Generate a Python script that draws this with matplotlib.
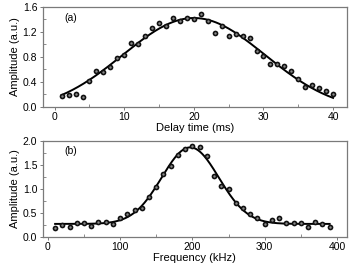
import numpy as np
import matplotlib
matplotlib.use("Agg")
import matplotlib.pyplot as plt
from matplotlib.ticker import MultipleLocator

plt.rcParams['font.family'] = ['Liberation Sans', 'DejaVu Sans']
plt.rcParams['font.size'] = 7.5

# ---------------------------------------------------------------------
# DATA
# ---------------------------------------------------------------------
delay_ms = list(range(1, 41))
amp_a = [0.17, 0.19, 0.21, 0.16, 0.42, 0.58, 0.56, 0.64, 0.79, 0.83,
         1.03, 1.01, 1.14, 1.27, 1.35, 1.30, 1.42, 1.38, 1.43, 1.40,
         1.48, 1.38, 1.19, 1.30, 1.14, 1.17, 1.14, 1.10, 0.90, 0.82,
         0.69, 0.68, 0.66, 0.58, 0.45, 0.32, 0.35, 0.30, 0.26, 0.21]

freq_khz = list(range(10, 400, 10))
amp_b = [0.19, 0.24, 0.21, 0.28, 0.28, 0.23, 0.32, 0.31, 0.26, 0.39,
         0.47, 0.57, 0.61, 0.83, 1.04, 1.31, 1.48, 1.70, 1.83, 1.89,
         1.875, 1.69, 1.27, 1.06, 0.99, 0.71, 0.60, 0.47, 0.40, 0.26,
         0.35, 0.40, 0.28, 0.28, 0.30, 0.21, 0.31, 0.26, 0.21]


# ---------------------------------------------------------------------
# GAUSSIAN FIT (offset + amplitude solved linearly, center/width by grid)
# ---------------------------------------------------------------------
def gauss_fit(x, y, centers, widths):
    x = np.asarray(x, float)
    y = np.asarray(y, float)
    best = None
    for c in centers:
        for w in widths:
            g = np.exp(-0.5 * ((x - c) / w) ** 2)
            A = np.column_stack([g, np.ones_like(g)])
            coef, *_ = np.linalg.lstsq(A, y, rcond=None)
            err = np.sum((A @ coef - y) ** 2)
            if best is None or err < best[0]:
                best = (err, c, w, coef)
    _, c, w, (a, b) = best
    return lambda t: a * np.exp(-0.5 * ((t - c) / w) ** 2) + b


fit_a = gauss_fit(delay_ms, amp_a, np.linspace(15, 25, 101), np.linspace(5, 20, 151))
fit_b = gauss_fit(freq_khz, amp_b, np.linspace(180, 220, 81), np.linspace(20, 60, 161))

# ---------------------------------------------------------------------
# PLOT
# ---------------------------------------------------------------------
fig = plt.figure(figsize=(3.57, 2.68), dpi=100)
ax1 = fig.add_axes([0.120, 0.601, 0.852, 0.373])
ax2 = fig.add_axes([0.120, 0.116, 0.852, 0.358])


def balls(ax, x, y):
    ax.scatter(x, y, s=17, color="#111111", zorder=3, linewidths=0)
    ax.scatter(x, y, s=3, color="#8a8a8a", zorder=4, linewidths=0)


xa = np.linspace(1, 40, 300)
ax1.plot(xa, fit_a(xa), color="black", lw=1.4, zorder=2)
balls(ax1, delay_ms, amp_a)
ax1.set_xlim(-1.7, 42)
ax1.set_ylim(0, 1.6)
ax1.xaxis.set_major_locator(MultipleLocator(10))
ax1.xaxis.set_minor_locator(MultipleLocator(5))
ax1.yaxis.set_major_locator(MultipleLocator(0.4))
ax1.yaxis.set_minor_locator(MultipleLocator(0.2))
ax1.set_xlabel("Delay time (ms)", fontsize=8, labelpad=0.5)
ax1.set_ylabel("Amplitude (a.u.)", fontsize=8, labelpad=2)
ax1.text(0.07, 0.86, "(a)", transform=ax1.transAxes, fontsize=7.5)

xb = np.linspace(10, 390, 400)
ax2.plot(xb, fit_b(xb), color="black", lw=1.4, zorder=2)
balls(ax2, freq_khz, amp_b)
ax2.set_xlim(-7, 414)
ax2.set_ylim(0, 2.0)
ax2.xaxis.set_major_locator(MultipleLocator(100))
ax2.xaxis.set_minor_locator(MultipleLocator(50))
ax2.yaxis.set_major_locator(MultipleLocator(0.5))
ax2.yaxis.set_minor_locator(MultipleLocator(0.25))
ax2.set_xlabel("Frequency (kHz)", fontsize=8, labelpad=0.5)
ax2.set_ylabel("Amplitude (a.u.)", fontsize=8, labelpad=2)
ax2.text(0.07, 0.86, "(b)", transform=ax2.transAxes, fontsize=7.5)

for ax in (ax1, ax2):
    for s in ax.spines.values():
        s.set_linewidth(0.9)
        s.set_color("#7a7a7a")
    ax.tick_params(which="major", direction="out", length=2.5, width=0.7,
                   color="#7a7a7a", pad=1.5)
    ax.tick_params(which="minor", direction="in", length=2, width=0.6,
                   color="#7a7a7a")

fig.savefig("out.png", dpi=100)
